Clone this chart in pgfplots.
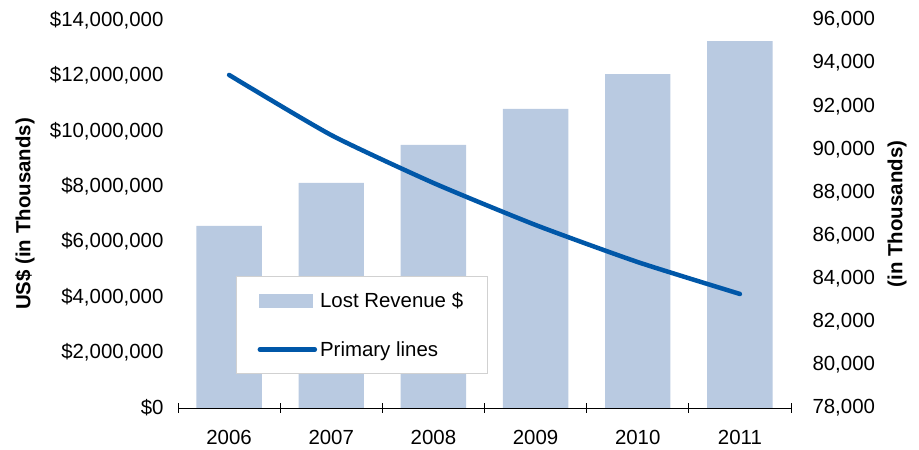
\documentclass[border=0pt]{standalone}
\usepackage{pgfplots}
\pgfplotsset{compat=1.18}
\usepackage{fontspec}
\setmainfont{Liberation Sans}
\definecolor{barblue}{RGB}{185,202,225}
\definecolor{lineblue}{RGB}{0,87,168}
\begin{document}
\begin{tikzpicture}[font=\fontsize{20.5}{24}\selectfont]
\pgfresetboundingbox
\useasboundingbox (0,0) rectangle (919bp,450bp);
\begin{axis}[
  at={(178bp,42bp)}, anchor=south west,
  width=613bp, height=388bp, scale only axis,
  xmin=0.5, xmax=6.5, ymin=0, ymax=14000000,
  scaled y ticks=false,
  axis x line*=bottom, axis y line*=left,
  y axis line style={draw=none},
  x axis line style={black, line width=0.8bp, -},
  ytick={0,2000000,4000000,6000000,8000000,10000000,12000000,14000000},
  yticklabels={{\$0},{\$2,000,000},{\$4,000,000},{\$6,000,000},{\$8,000,000},{\$10,000,000},{\$12,000,000},{\$14,000,000}},
  ytick style={draw=none},
  xtick={0.5,1.5,2.5,3.5,4.5,5.5,6.5},
  x tick label as interval,
  xticklabels={2006,2007,2008,2009,2010,2011},
  xtick align=center, major tick length=9bp,
  xtick style={black, line width=0.8bp},
  yticklabel style={anchor=east, xshift=-11bp},
  xticklabel style={anchor=north, yshift=-14bp},
  ylabel={\bfseries US\$ (in Thousands)},
  ylabel style={at={(axis description cs:-0.2496,0.5)}, anchor=center},
  tick label style={font=\fontsize{20.5}{24}\selectfont},
]
\addplot[ybar, bar width=0.64, fill=barblue, draw=none] coordinates {
  (1,6570000) (2,8120000) (3,9490000) (4,10790000) (5,12050000) (6,13240000)};
\end{axis}
\begin{axis}[
  at={(178bp,42bp)}, anchor=south west,
  width=613bp, height=388bp, scale only axis,
  xmin=0.5, xmax=6.5, ymin=78000, ymax=96000,
  scaled y ticks=false,
  axis x line=none, axis y line*=right,
  y axis line style={draw=none},
  ytick={78000,80000,82000,84000,86000,88000,90000,92000,94000,96000},
  yticklabels={{78,000},{80,000},{82,000},{84,000},{86,000},{88,000},{90,000},{92,000},{94,000},{96,000}},
  ytick style={draw=none},
  yticklabel style={anchor=west, xshift=18bp},
  ylabel={\bfseries (in Thousands)},
  ylabel style={at={(axis description cs:1.173,0.5)}, anchor=center},
  tick label style={font=\fontsize{20.5}{24}\selectfont},
  legend style={at={(axis description cs:0.0946,0.340)}, anchor=north west,
    draw=black!18, line width=1.2bp, fill=white,
    inner xsep=21bp, inner ysep=13bp, row sep=26bp,
    font=\fontsize{20.5}{24}\selectfont,
    nodes={inner sep=3bp}},
  legend cell align=left,
]
\addlegendimage{legend image code/.code={\fill[barblue] (0bp,-6.5bp) rectangle (53bp,6.5bp);}}
\addlegendentry{Lost Revenue \$}
\addplot[lineblue, line width=4.5bp, smooth, tension=0.35, line cap=round,
  legend image code/.code={\draw[lineblue, line width=4.5bp, line cap=round] (0bp,0bp) -- (55bp,0bp);}]
  coordinates {(1,93450) (2,90660) (3,88440) (4,86490) (5,84770) (6,83290)};
\addlegendentry{Primary lines\rule[-16bp]{0pt}{1bp}}
\end{axis}
\end{tikzpicture}
\end{document}
